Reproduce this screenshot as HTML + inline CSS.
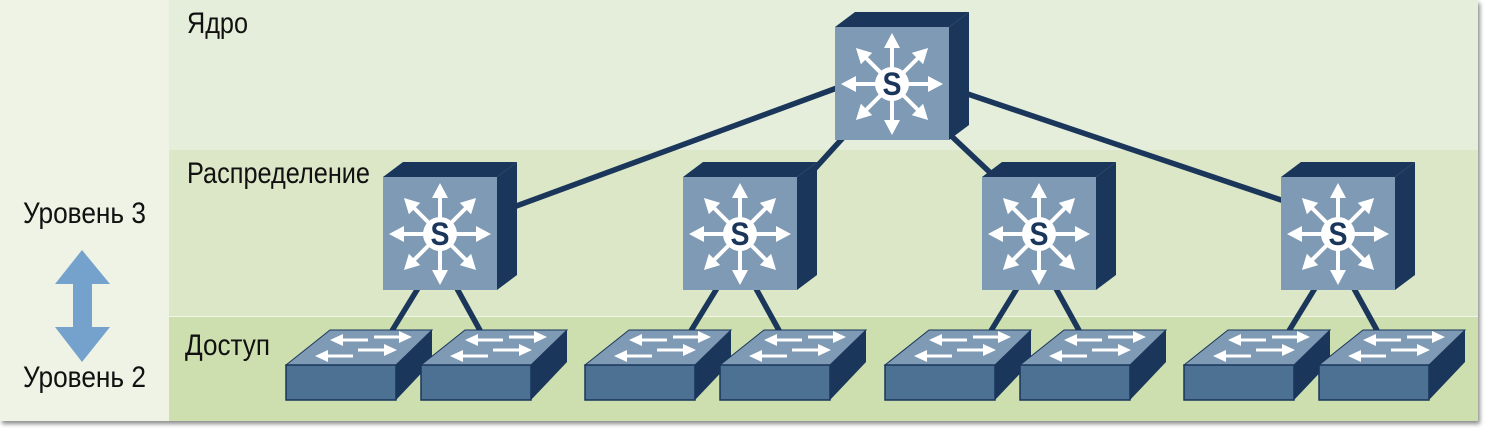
<!DOCTYPE html>
<html><head><meta charset="utf-8"><style>
html,body{margin:0;padding:0;background:#fff;}
svg{display:block;}
text{font-family:"Liberation Sans",sans-serif;fill:#111;}
</style></head><body>
<svg width="1490" height="431" viewBox="0 0 1490 431" xmlns="http://www.w3.org/2000/svg">
<defs>
<filter id="sh" x="-2%" y="-5%" width="105%" height="115%"><feDropShadow dx="2" dy="3" stdDeviation="2" flood-color="#000" flood-opacity="0.45"/></filter>
<g id="arr">
 <line x1="0" y1="0" x2="38" y2="0" stroke="#fff" stroke-width="4"/>
 <polygon points="51,0 36,-8 36,8" fill="#fff"/>
</g>
<g id="dsw">
 <polygon points="0,0 20,-15 134,-15 114,0" fill="#1a365b"/>
 <polygon points="114,0 134,-15 134,98 114,113" fill="#1a365b"/>
 <rect x="0" y="0" width="114" height="113" fill="#7f9ab4"/>
 <g transform="translate(57,57)">
  <use href="#arr"/>
  <use href="#arr" transform="rotate(45)"/>
  <use href="#arr" transform="rotate(90)"/>
  <use href="#arr" transform="rotate(135)"/>
  <use href="#arr" transform="rotate(180)"/>
  <use href="#arr" transform="rotate(225)"/>
  <use href="#arr" transform="rotate(270)"/>
  <use href="#arr" transform="rotate(315)"/>
  <circle r="17" fill="#fff"/>
  <text x="0" y="11" text-anchor="middle" font-size="32" font-weight="bold" style="fill:#1a365b" textLength="19" lengthAdjust="spacingAndGlyphs">S</text>
 </g>
</g>
<g id="asw">
 <polygon points="0,0 44,-35 146,-35 110,0" fill="#7f9ab4" stroke="#1a365b" stroke-width="1"/>
 <polygon points="110,0 146,-35 146,-3 110,35" fill="#1a365b"/>
 <rect x="0" y="0" width="110" height="35" fill="#4c7193" stroke="#1a365b" stroke-width="1.5"/>
 <line x1="54" y1="-25" x2="82" y2="-25" stroke="#fff" stroke-width="3"/><polygon points="44,-25 57,-31 57,-19" fill="#fff"/>
 <line x1="88" y1="-28" x2="116" y2="-28" stroke="#fff" stroke-width="3"/><polygon points="126,-28 113,-34 113,-22" fill="#fff"/>
 <line x1="39" y1="-9" x2="67" y2="-9" stroke="#fff" stroke-width="3"/><polygon points="29,-9 42,-15 42,-3" fill="#fff"/>
 <line x1="72" y1="-15" x2="101" y2="-15" stroke="#fff" stroke-width="3"/><polygon points="111,-15 98,-21 98,-9" fill="#fff"/>
</g>
</defs>
<g filter="url(#sh)">
 <rect x="0" y="0" width="1478" height="421" fill="#eef3e5"/>
</g>
<rect x="169" y="0" width="1309" height="150" fill="#e5eeda"/>
<rect x="169" y="150" width="1309" height="166" fill="#dbe7c6"/>
<rect x="169" y="317" width="1309" height="104" fill="#cddfae"/>
<line x1="169" y1="316.5" x2="1478" y2="316.5" stroke="#f2f6ea" stroke-width="1"/>

<text x="187" y="33" font-size="30" textLength="61" lengthAdjust="spacingAndGlyphs">Ядро</text>
<text x="187" y="183" font-size="30" textLength="183" lengthAdjust="spacingAndGlyphs">Распределение</text>
<text x="185" y="355" font-size="30" textLength="85" lengthAdjust="spacingAndGlyphs">Доступ</text>
<text x="23" y="223" font-size="30" textLength="123" lengthAdjust="spacingAndGlyphs">Уровень 3</text>
<text x="23" y="387" font-size="30" textLength="123" lengthAdjust="spacingAndGlyphs">Уровень 2</text>
<polygon points="82,250 110,284 92,284 92,327 110,327 82,362 55,327 73,327 73,284 55,284" fill="#75a2cc"/>

<g stroke="#1a365b" stroke-width="5.5">
 <line x1="845" y1="85" x2="500" y2="212"/>
 <line x1="850" y1="130" x2="800" y2="185"/>
 <line x1="945" y1="130" x2="998" y2="180"/>
 <line x1="950" y1="88" x2="1290" y2="203"/>
 <g id="dl">
  <line x1="420" y1="285" x2="390" y2="334"/>
  <line x1="455" y1="285" x2="482" y2="334"/>
 </g>
 <use href="#dl" transform="translate(299,0)"/>
 <use href="#dl" transform="translate(599,0)"/>
 <use href="#dl" transform="translate(897,0)"/>
</g>

<use href="#dsw" transform="translate(835,27)"/>
<use href="#dsw" transform="translate(383,177)"/>
<use href="#dsw" transform="translate(683,177)"/>
<use href="#dsw" transform="translate(982,177)"/>
<use href="#dsw" transform="translate(1281,177)"/>

<use href="#asw" transform="translate(286,365)"/>
<use href="#asw" transform="translate(421,365)"/>
<use href="#asw" transform="translate(585,365)"/>
<use href="#asw" transform="translate(720,365)"/>
<use href="#asw" transform="translate(885,365)"/>
<use href="#asw" transform="translate(1020,365)"/>
<use href="#asw" transform="translate(1184,365)"/>
<use href="#asw" transform="translate(1319,365)"/>
</svg>
</body></html>
